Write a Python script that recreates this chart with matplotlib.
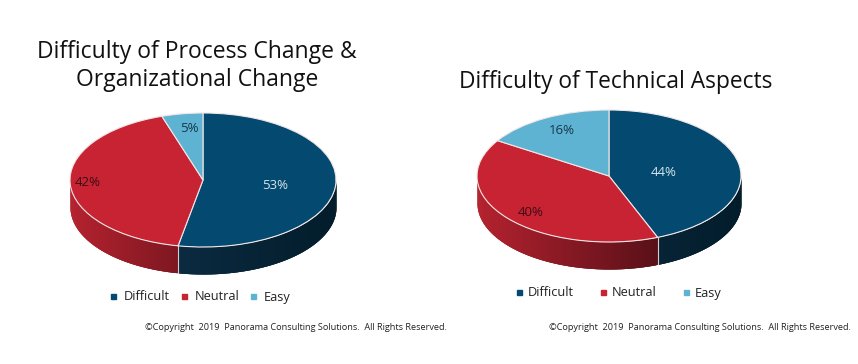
import numpy as np
import matplotlib
matplotlib.use("Agg")
import matplotlib.pyplot as plt
from matplotlib.colors import to_rgb
from matplotlib.lines import Line2D

W, H = 858, 364

categories = ["Difficult", "Neutral", "Easy"]
process_values = [53, 42, 5]
technical_values = [44, 40, 16]
title_process = "Difficulty of Process Change &\nOrganizational Change"
title_technical = "Difficulty of Technical Aspects"
copyright_text = "©Copyright  2019  Panorama Consulting Solutions.  All Rights Reserved."

colors = ["#04496f", "#c82333", "#5fb3d2"]
# gradient of the side wall, left to right
wall_colors = [("#0c2c43", "#021c2a"), ("#b4222f", "#5a1018"), ("#4a8fa8", "#3a7f98")]

plt.rcParams["font.family"] = ["Open Sans", "DejaVu Sans"]

fig = plt.figure(figsize=(W / 100, H / 100), dpi=100)
fig.patch.set_facecolor("white")


def pie3d(values, cx, cy, rx, ry, depth, label_px, label_colors):
    # axes in pixels, the unit circle lands on the ellipse
    x0, x1 = cx - rx - 4, cx + rx + 4
    y0, y1 = cy - ry - 4, cy + ry + depth + 4
    ax = fig.add_axes([x0 / W, 1 - y1 / H, (x1 - x0) / W, (y1 - y0) / H])
    ax.pie(values, colors=colors, startangle=90, counterclock=False,
           wedgeprops=dict(edgecolor="#f0e6e6", linewidth=0.8, zorder=3))
    ax.set_aspect("auto")
    ax.set_xlim((x0 - cx) / rx, (x1 - cx) / rx)
    ax.set_ylim((cy - y1) / ry, (cy - y0) / ry)
    d = depth / ry

    # side wall, each strip runs under the next one to hide the seams
    edges = np.cumsum([0] + list(values)) / sum(values) * 360
    for i in range(len(values)):
        a0, a1 = max(edges[i], 90), min(edges[i + 1], 270)
        if a1 <= a0:
            continue
        steps = np.linspace(a0, a1, int(a1 - a0) * 2 + 2)
        c0, c1 = np.array(to_rgb(wall_colors[i][0])), np.array(to_rgb(wall_colors[i][1]))
        for j in range(len(steps) - 1):
            t = np.linspace(steps[j], steps[min(j + 3, len(steps) - 1)], 4)
            xs = np.sin(np.radians(t))
            ys = np.cos(np.radians(t))
            xm = np.sin(np.radians(steps[j]))
            f = (xm + 1) / 1.36 if i == 1 else (xm + 0.3) / 1.3
            f = np.clip(f, 0, 1)
            col = c0 + (c1 - c0) * f
            ax.fill_between(xs, ys - d, ys, color=col, linewidth=0, zorder=1)
        if a1 < 270:
            xb, yb = np.sin(np.radians(a1)), np.cos(np.radians(a1))
            ax.plot([xb, xb], [yb, yb - d], color="#d8cccc", lw=0.8, zorder=2)

    for v, (px, py), c in zip(values, label_px, label_colors):
        ax.text((px - cx) / rx, (cy - py) / ry, "%d%%" % v, color=c, fontsize=9.5,
                ha="center", va="center", zorder=4)
    return ax


pie3d(process_values, 203, 180, 133, 67, 27,
      [(275, 186), (88, 183), (189, 129)], ["#d6e6ee", "#3c0d14", "#17384c"])
pie3d(technical_values, 609, 176, 132, 66, 27,
      [(664, 172), (531, 213), (562, 131)], ["#d6e6ee", "#3c0d14", "#17384c"])

fig.text(197 / W, 1 - 66 / H, title_process, ha="center", va="center", fontsize=16.5,
         color="#111111", linespacing=1.24)
fig.text(615.5 / W, 1 - 82.5 / H, title_technical, ha="center", va="center", fontsize=16.4,
         color="#111111")

handles = [Line2D([], [], ls="", marker="s", ms=3.6, color=c) for c in colors]
fig.legend(handles, categories, loc="center", bbox_to_anchor=(198.5 / W, 1 - 297 / H), ncol=3,
           frameon=False, fontsize=9.2, handlelength=1, handletextpad=0.35, columnspacing=0.55,
           labelcolor="#222222")
fig.legend(handles, categories, loc="center", bbox_to_anchor=(617 / W, 1 - 293 / H), ncol=3,
           frameon=False, fontsize=9.2, handlelength=1, handletextpad=0.15, columnspacing=1.85,
           labelcolor="#222222")

fig.text(295.5 / W, 1 - 327 / H, copyright_text, ha="center", va="center", fontsize=6.55,
         color="#222222")
fig.text(699.5 / W, 1 - 327 / H, copyright_text, ha="center", va="center", fontsize=6.55,
         color="#222222")

fig.savefig("out.png", dpi=100)
